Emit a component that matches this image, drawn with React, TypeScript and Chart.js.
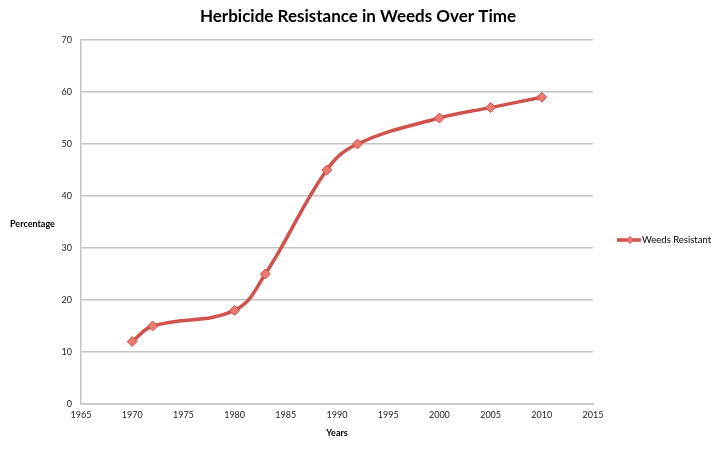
import React, { useEffect, useRef } from "react";
import { Chart, registerables } from "chart.js";
Chart.register(...registerables);

const years = [1970, 1972, 1980, 1983, 1989, 1992, 2000, 2005, 2010];
const resistant = [12, 15, 18, 25, 45, 50, 55, 57, 59];
const seriesName = "Weeds Resistant";
const chartTitle = "Herbicide Resistance in Weeds Over Time";
const xTitle = "Years";
const yTitle = "Percentage";
const xMin = 1965;
const xMax = 2015;
const yMin = 0;
const yMax = 70;

const FONT = "Lato, 'Open Sans', sans-serif";
const LINE = "#d0524c";
const MARK = "#ec7a73";

const textPlugin = {
  id: "texts",
  afterDraw(chart: any) {
    const ctx = chart.ctx;
    const ca = chart.chartArea;
    ctx.save();
    ctx.fillStyle = "#000";
    ctx.textBaseline = "middle";
    ctx.font = `bold 17px ${FONT}`;
    ctx.textAlign = "center";
    ctx.fillText(chartTitle, 358, 17);
    ctx.font = `bold 9px ${FONT}`;
    ctx.textAlign = "left";
    ctx.fillText(yTitle, 10, 224);
    ctx.textAlign = "center";
    ctx.fillText(xTitle, (ca.left + ca.right) / 2, 433);
    // legend
    const ly = 240;
    ctx.strokeStyle = LINE;
    ctx.lineWidth = 3.5;
    ctx.beginPath();
    ctx.moveTo(617, ly);
    ctx.lineTo(641, ly);
    ctx.stroke();
    ctx.fillStyle = MARK;
    ctx.lineWidth = 1;
    ctx.beginPath();
    ctx.moveTo(630, ly - 3.5);
    ctx.lineTo(633.5, ly);
    ctx.lineTo(630, ly + 3.5);
    ctx.lineTo(626.5, ly);
    ctx.closePath();
    ctx.fill();
    ctx.stroke();
    ctx.fillStyle = "#000";
    ctx.font = `9.5px ${FONT}`;
    ctx.textAlign = "left";
    ctx.fillText(seriesName, 642, ly);
    ctx.restore();
  },
};

export default function App() {
  const ref = useRef<HTMLCanvasElement>(null);
  useEffect(() => {
    const chart = new Chart(ref.current!, {
      type: "line",
      data: {
        datasets: [
          {
            label: seriesName,
            data: years.map((y, i) => ({ x: y, y: resistant[i] })),
            borderColor: LINE,
            borderWidth: 3.5,
            tension: 0.4,
            pointStyle: "rectRot",
            pointRadius: 5,
            pointBackgroundColor: MARK,
            pointBorderColor: LINE,
            pointBorderWidth: 1,
          },
        ],
      },
      options: {
        animation: false,
        responsive: false,
        layout: { padding: { left: 0, right: 125, top: 40, bottom: 0 } },
        plugins: { legend: { display: false }, tooltip: { enabled: false } },
        scales: {
          x: {
            type: "linear",
            min: xMin,
            max: xMax,
            ticks: { stepSize: 5, padding: 6, color: "#222", font: { family: FONT, size: 9 }, callback: (v: any) => String(v) },
            grid: { display: false, drawTicks: false },
            border: { display: true, color: "#c4c4c4", width: 1.5 },
            afterFit: (s: any) => { s.height = 45; },
          },
          y: {
            min: yMin,
            max: yMax,
            ticks: { stepSize: 10, padding: 9, color: "#222", font: { family: FONT, size: 9 } },
            grid: { color: "#c4c4c4", lineWidth: 1.5, drawTicks: false },
            border: { display: true, color: "#c4c4c4", width: 1.5 },
            afterFit: (s: any) => { s.width = 81; },
          },
        },
      },
      plugins: [textPlugin],
    });
    return () => chart.destroy();
  }, []);
  return (
    <div style={{ position: "fixed", left: 0, top: 0, width: 718, height: 449, background: "#fff" }}>
      <canvas ref={ref} width={718} height={449} style={{ width: 718, height: 449 }} />
    </div>
  );
}
